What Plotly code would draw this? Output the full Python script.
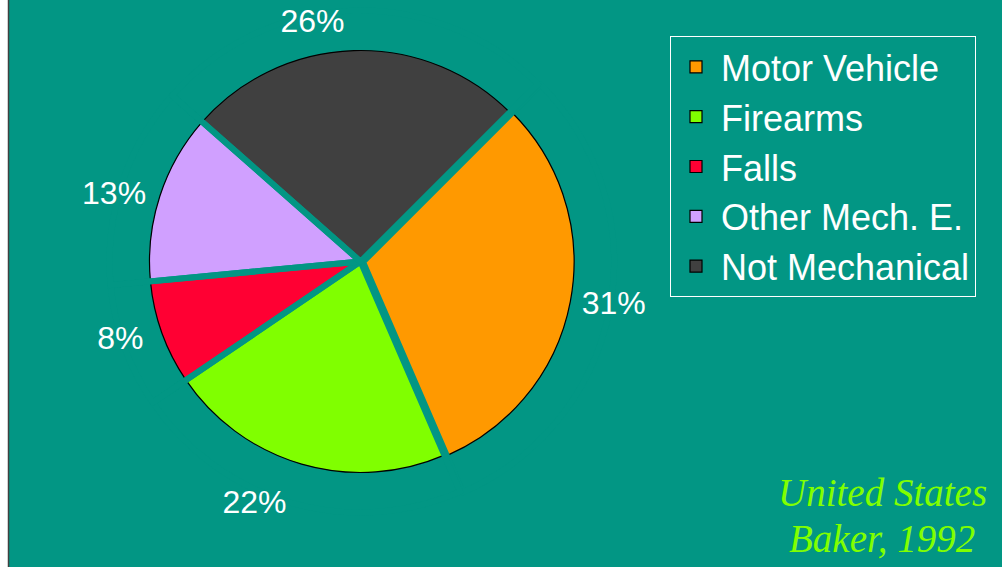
import plotly.graph_objects as go

# ---- data ----
categories = ["Motor Vehicle", "Firearms", "Falls", "Other Mech. E.", "Not Mechanical"]
shares = [31, 22, 8, 13, 26]
slice_colors = ["#FF9900", "#80FF00", "#FF0033", "#D0A0FF", "#404040"]
note_lines = ["United States", "Baker, 1992"]

BG = "#029684"
W, H = 1002, 567

# geometry (pixels) -> domains
cx, cy, r = 360.5, 261.5, 211.0
pull_px = 2.6


def domain_for(radius, pull_frac):
    d = radius * (2 + 2 * pull_frac) / 2
    x = [(cx - d) / W, (cx + d) / W]
    y = [1 - (cy + d) / H, 1 - (cy - d) / H]
    return dict(x=x, y=y)


p_main = pull_px / r
pulls_main = [p_main, 0, 0, 0, 0]

R_gap = r + 40
p_gap = pull_px / R_gap
pulls_gap = [p_gap, 0, 0, 0, 0]

# label offsets (px, radial) so the percentages sit a little further out
label_push_px = [5, 22, 10, 5, 12]
pulls_label = [v / r for v in label_push_px]
p_label_max = max(pulls_label)

common = dict(labels=categories, values=shares, sort=False, direction="clockwise",
              rotation=45, hoverinfo="skip")

fig = go.Figure()
# coloured slices with black rim
fig.add_trace(go.Pie(**common, pull=pulls_main, domain=domain_for(r, p_main),
                     marker=dict(colors=slice_colors, line=dict(color="#000000", width=1.2)),
                     textinfo="none", showlegend=True))
# teal separators between slices
fig.add_trace(go.Pie(**common, pull=pulls_gap, domain=domain_for(R_gap, p_gap),
                     marker=dict(colors=["rgba(0,0,0,0)"] * len(shares), line=dict(color=BG, width=6)),
                     textinfo="none", showlegend=False))
# percentage labels
fig.add_trace(go.Pie(**common, pull=pulls_label, domain=domain_for(r, p_label_max),
                     marker=dict(colors=["rgba(0,0,0,0)"] * len(shares), line=dict(width=0)),
                     textinfo="percent", textposition="outside", automargin=False,
                     outsidetextfont=dict(color="white", size=32, family="Arial, Liberation Sans"),
                     showlegend=False))

note_y = [492, 538]
for line, yy in zip(note_lines, note_y):
    fig.add_annotation(text="<i>" + line + "</i>", xref="paper", yref="paper",
                       x=882 / W, y=1 - yy / H, xanchor="center", yanchor="middle",
                       showarrow=False, align="center",
                       font=dict(family="Times New Roman, Liberation Serif", size=39, color="#80FF00"))

fig.update_layout(
    width=W, height=H,
    margin=dict(l=0, r=0, t=0, b=0, autoexpand=False),
    paper_bgcolor=BG, plot_bgcolor=BG,
    showlegend=True,
    legend=dict(x=670 / W, y=1 - 36 / H, xanchor="left", yanchor="top",
                bgcolor="rgba(0,0,0,0)", bordercolor="white", borderwidth=1,
                font=dict(color="white", size=36, family="Arial, Liberation Sans"),
                itemwidth=40, traceorder="normal"),
    shapes=[
        dict(type="rect", xref="paper", yref="paper", x0=0, x1=8 / W, y0=0, y1=1,
             fillcolor="white", line=dict(width=0), layer="above"),
        dict(type="line", xref="paper", yref="paper", x0=8.5 / W, x1=8.5 / W, y0=0, y1=1,
             line=dict(color="#404040", width=1.5), layer="above"),
    ],
)

fig.write_html("out.html")
